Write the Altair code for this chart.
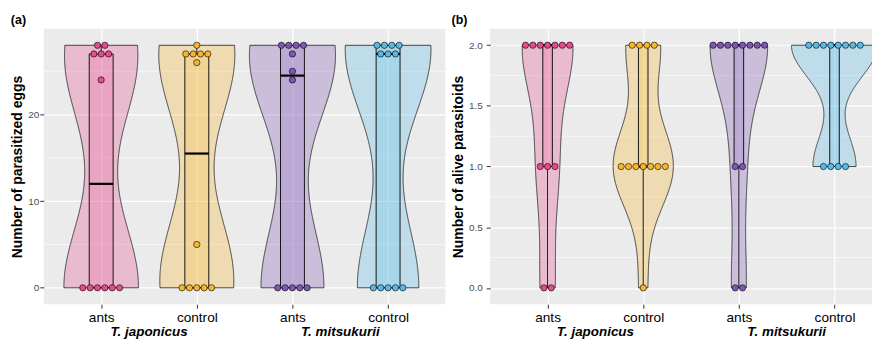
import json
import altair as alt
import numpy as np
import pandas as pd

FONT = "Liberation Sans"

# ---- data ----
species = ["T. japonicus", "T. japonicus", "T. mitsukurii", "T. mitsukurii"]
treatment = ["ants", "control", "ants", "control"]
colors = ["#E64B8C", "#F7B52C", "#7E57B5", "#56B9E6"]

eggs_jap_ants = [0, 0, 0, 0, 0, 0, 24, 27, 27, 27, 28, 28]
eggs_jap_ctrl = [0, 0, 0, 0, 0, 5, 26, 27, 27, 27, 27, 28]
eggs_mit_ants = [0, 0, 0, 0, 0, 24, 25, 27, 28, 28, 28, 28]
eggs_mit_ctrl = [0, 0, 0, 0, 0, 27, 27, 27, 28, 28, 28, 28]

alive_jap_ants = [0, 0, 1, 1, 1, 2, 2, 2, 2, 2, 2, 2]
alive_jap_ctrl = [0, 1, 1, 1, 1, 1, 1, 1, 2, 2, 2, 2]
alive_mit_ants = [0, 0, 1, 1, 2, 2, 2, 2, 2, 2, 2, 2]
alive_mit_ctrl = [1, 1, 1, 1, 2, 2, 2, 2, 2, 2, 2, 2]

eggs_ticks = [0, 10, 20]
eggs_minor = [5, 15, 25]
alive_ticks = [0, 0.5, 1.0, 1.5, 2.0]
alive_minor = [0.25, 0.75, 1.25, 1.75]


def nrd0(v):
    v = np.asarray(v, float)
    sd = v.std(ddof=1)
    q1, q3 = np.percentile(v, [25, 75])
    lo = min(sd, (q3 - q1) / 1.34)
    if lo == 0:
        lo = sd if sd > 0 else 1.0
    return 0.9 * lo * len(v) ** -0.2


def kde_max(v, bw):
    v = np.asarray(v, float)
    grid = np.linspace(v.min(), v.max(), 512)
    d = np.exp(-0.5 * ((grid[:, None] - v[None, :]) / bw) ** 2).sum(1) / (len(v) * bw * np.sqrt(2 * np.pi))
    return d.max()


H = 277


def panel(groups, title, ytitle, ydomain, ymajor, yminor, yfmt, width, xdomain,
          box_half, label_pad):
    rows = []
    for i, vals in enumerate(groups):
        for v in vals:
            rows.append({"g": i, "pos": i + 1, "value": v})
    df = pd.DataFrame(rows)
    bws = [nrd0(v) for v in groups]
    dmax = max(kde_max(v, b) for v, b in zip(groups, bws))
    k = 0.45 / dmax
    dot_step = 7.4 * (xdomain[1] - xdomain[0]) / width

    xscale = alt.Scale(domain=xdomain, nice=False, zero=False)
    yscale = alt.Scale(domain=ydomain, nice=False, zero=False)
    label_expr = json.dumps([""] + treatment) + "[datum.value]"
    xaxis = alt.Axis(values=[1, 2, 3, 4], grid=True, gridColor="white", gridWidth=1.2,
                     domain=False, ticks=True, tickColor="#333333", tickSize=4, tickWidth=1,
                     labelExpr=label_expr, labelFont=FONT, labelFontSize=13.7,
                     labelColor="black", labelPadding=2, labelOverlap=False,
                     labelFlush=False, title=None)
    yaxis = alt.Axis(values=ymajor, grid=True, gridColor="white", gridWidth=1.2,
                     domain=False, ticks=True, tickColor="#333333", tickSize=4, tickWidth=1,
                     labelFont=FONT, labelFontSize=10, labelColor="#4D4D4D",
                     labelPadding=label_pad, format=yfmt, labelOverlap=False,
                     labelFlush=False,
                     title=ytitle, titleFont=FONT, titleFontSize=14,
                     titleFontWeight="bold", titleColor="black", titlePadding=3)

    def X(f):
        return alt.X(f, type="quantitative", scale=xscale, axis=xaxis)

    def Y(f):
        return alt.Y(f, type="quantitative", scale=yscale, axis=yaxis)

    color_scale = alt.Scale(domain=[0, 1, 2, 3], range=colors)
    base = alt.Chart(df)
    layers = []

    minor = alt.Chart(pd.DataFrame({"y": yminor})).mark_rule(
        color="white", strokeWidth=0.6).encode(y=Y("y"))
    layers.append(minor)

    for i, vals in enumerate(groups):
        vio = (base.transform_filter(alt.datum.g == i)
               .transform_density("value", as_=["value", "density"], bandwidth=float(bws[i]),
                                  extent=[float(min(vals)), float(max(vals))], steps=300)
               .transform_calculate(xl=f"{i + 1} - datum.density*{k}",
                                    xr=f"{i + 1} + datum.density*{k}")
               .mark_area(orient="horizontal", fill=colors[i], fillOpacity=0.3,
                          stroke="#333333", strokeWidth=0.9)
               .encode(y=Y("value"), x=X("xl"), x2="xr"))
        layers.append(vio)

    box = (base.transform_aggregate(q1="q1(value)", q3="q3(value)", med="median(value)",
                                    lo="min(value)", hi="max(value)", groupby=["g", "pos"])
           .transform_calculate(bl=f"datum.pos - {box_half}", br=f"datum.pos + {box_half}"))
    rect = box.mark_rect(fillOpacity=0.2, stroke="black", strokeWidth=0.9).encode(
        x=X("bl"), x2="br", y=Y("q1"), y2="q3",
        fill=alt.Fill("g:O", scale=color_scale, legend=None))
    upper = box.mark_rule(color="black", strokeWidth=0.9).encode(x=X("pos"), y=Y("q3"), y2="hi")
    lower = box.mark_rule(color="black", strokeWidth=0.9).encode(x=X("pos"), y=Y("lo"), y2="q1")
    med = box.mark_rule(color="black", strokeWidth=2.2).encode(x=X("bl"), x2="br", y=Y("med"))
    layers += [rect, upper, lower, med]

    pts = (base.transform_window(rank="row_number()", groupby=["g", "value"])
           .transform_joinaggregate(cnt="count()", groupby=["g", "value"])
           .transform_calculate(px=f"datum.pos + (datum.rank - (datum.cnt + 1)/2)*{dot_step}")
           .mark_circle(size=40, opacity=1, stroke="black", strokeWidth=0.6)
           .encode(x=X("px"), y=Y("value"),
                   fill=alt.Fill("g:O", scale=color_scale, legend=None)))
    layers.append(pts)

    sp_names = []
    sp_pos = []
    for i, s in enumerate(species):
        if s not in sp_names:
            sp_names.append(s)
            sp_pos.append([])
        sp_pos[sp_names.index(s)].append(i + 1)
    sp_df = pd.DataFrame({"name": sp_names, "pos": [float(np.mean(p)) for p in sp_pos]})
    sp = alt.Chart(sp_df).mark_text(font=FONT, fontSize=13.5, fontStyle="italic",
                                    fontWeight="bold", color="black",
                                    baseline="alphabetic").encode(
        x=X("pos"), y=alt.value(H + 32), text="name:N")
    layers.append(sp)

    return alt.layer(*layers).properties(
        width=width, height=H,
        title=alt.TitleParams(title, anchor="start", frame="bounds", font=FONT,
                              fontSize=12.5, fontWeight="bold", color="black", offset=2))


pa = panel([eggs_jap_ants, eggs_jap_ctrl, eggs_mit_ants, eggs_mit_ctrl], "(a)",
           "Number of parasitized eggs", [-1.9, 29.9], eggs_ticks, eggs_minor, "d",
           404, [0.4, 4.6], 0.125, 1)
pb = panel([alive_jap_ants, alive_jap_ctrl, alive_mit_ants, alive_mit_ctrl], "(b)",
           "Number of alive parasitoids", [-0.135, 2.135], alive_ticks, alive_minor, ".1f",
           404, [0.4, 4.6], 0.05, 4)

# the right end of panel (b) runs past the frame in the reference, so the canvas is
# trimmed on the right (negative padding) to keep the page inside the window
chart = (alt.hconcat(pa, pb, spacing=5)
         .properties(padding={"left": 2, "top": 5, "right": -21, "bottom": 0},
                     background="white")
         .configure_view(fill="#EBEBEB", strokeWidth=0))

chart.save("out.html", embed_options={"renderer": "svg", "actions": False})
